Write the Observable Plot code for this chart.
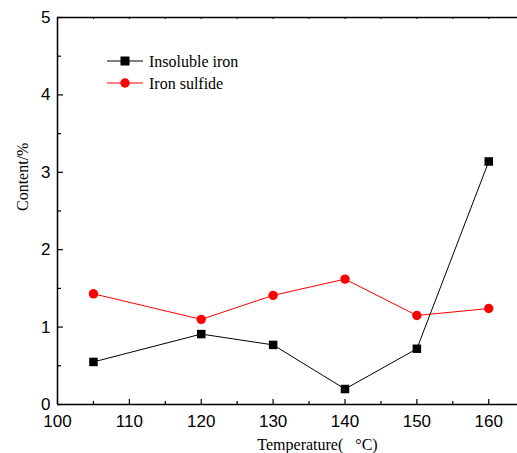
<!DOCTYPE html>
<html><head><meta charset="utf-8">
<script src="https://cdn.jsdelivr.net/npm/d3@7"></script>
<script src="https://cdn.jsdelivr.net/npm/@observablehq/plot@0.6"></script>
<style>body{margin:0;background:#fff}</style>
</head><body><div id="chart"></div>
<script>
const temperatures = [105, 120, 130, 140, 150, 160];
const insolubleIron = [0.55, 0.91, 0.77, 0.20, 0.72, 3.14];
const ironSulfide = [1.43, 1.10, 1.41, 1.62, 1.15, 1.24];
const seriesNames = ["Insoluble iron", "Iron sulfide"];
const seriesColors = ["#000000", "#ff0000"];
const xMajorTicks = [100, 110, 120, 130, 140, 150, 160];
const xMinorTicks = [105, 115, 125, 135, 145, 155];
const xTopTicks = [100, 105, 110, 115, 120, 125, 130, 135, 140, 145, 150, 155, 160];
const yMajorTicks = [0, 1, 2, 3, 4, 5];
const yMinorTicks = [0.5, 1.5, 2.5, 3.5, 4.5];
const xLabel = "Temperature(\u00a0\u00a0\u00a0°C)";
const yLabel = "Content/%";

const W = 517, H = 453, mL = 57, mR = 0, mT = 17, mB = 49;
const innerW = W - mL - mR, innerH = H - mT - mB;
const serif = "'Liberation Serif', 'Times New Roman', serif";

const rows = [];
temperatures.forEach((t, i) => {
  rows.push({t, v: insolubleIron[i], s: seriesNames[0]});
  rows.push({t, v: ironSulfide[i], s: seriesNames[1]});
});
const iron = rows.filter(d => d.s === seriesNames[0]);
const sulf = rows.filter(d => d.s === seriesNames[1]);

const plot = Plot.plot({
  width: W, height: H,
  marginLeft: mL, marginRight: mR, marginTop: mT, marginBottom: mB,
  style: {fontFamily: "'Liberation Sans', Arial, sans-serif", fontSize: "17px", color: "#000", background: "#fff"},
  x: {domain: [100, 164]},
  y: {domain: [0, 5]},
  marks: [
    Plot.axisX(xMajorTicks, {tickSize: 0, tickPadding: 10, label: null, fontSize: 17, tickFormat: d => String(d)}),
    Plot.axisY(yMajorTicks, {tickSize: 0, tickPadding: 7, label: null, fontSize: 17, tickFormat: d => String(d)}),
    Plot.ruleY([0], {stroke: "#000", strokeWidth: 1.5}),
    Plot.ruleY([5], {stroke: "#000", strokeWidth: 1.5}),
    Plot.ruleX([100], {stroke: "#000", strokeWidth: 1.5}),
    Plot.tickX(xMajorTicks, {x: d => d, insetTop: innerH - 5, stroke: "#000", strokeWidth: 1.2}),
    Plot.tickX(xMinorTicks, {x: d => d, insetTop: innerH - 3, stroke: "#000", strokeWidth: 1.2}),
    Plot.tickX(xTopTicks, {x: d => d, insetBottom: innerH - 2, stroke: "#000", strokeWidth: 1}),
    Plot.tickY(yMajorTicks, {y: d => d, insetRight: innerW - 6, stroke: "#000", strokeWidth: 1.2}),
    Plot.tickY(yMinorTicks, {y: d => d, insetRight: innerW - 4, stroke: "#000", strokeWidth: 1.2}),
    Plot.line(sulf, {x: "t", y: "v", stroke: seriesColors[1], strokeWidth: 1}),
    Plot.dot(sulf, {x: "t", y: "v", fill: seriesColors[1], r: 4.7, symbol: "circle"}),
    Plot.line(iron, {x: "t", y: "v", stroke: seriesColors[0], strokeWidth: 1}),
    Plot.dot(iron, {x: "t", y: "v", fill: seriesColors[0], r: 4.8, symbol: "square"}),
    Plot.text([xLabel], {text: d => d, frameAnchor: "bottom", lineAnchor: "bottom", dx: 30, dy: 45,
      fontFamily: serif, fontSize: 16}),
    Plot.text([yLabel], {text: d => d, frameAnchor: "left", rotate: -90, dx: -35,
      fontFamily: serif, fontSize: 16})
  ]
});

// legend
const svg = d3.select(plot);
const lg = svg.append("g");
seriesNames.forEach((name, i) => {
  const y = 61 + i * 22;
  lg.append("line").attr("x1", 107).attr("x2", 143).attr("y1", y).attr("y2", y)
    .attr("stroke", seriesColors[i]).attr("stroke-width", 1);
  if (i === 0) {
    lg.append("rect").attr("x", 125 - 4.5).attr("y", y - 4.5).attr("width", 9).attr("height", 9).attr("fill", seriesColors[i]);
  } else {
    lg.append("circle").attr("cx", 125).attr("cy", y).attr("r", 4.7).attr("fill", seriesColors[i]);
  }
  lg.append("text").attr("x", 149).attr("y", y).attr("dy", "0.35em")
    .style("font-family", serif).style("font-size", "16px").style("text-anchor", "start")
    .attr("fill", "#000").text(name);
});

document.getElementById("chart").appendChild(plot);
</script>
</body></html>
